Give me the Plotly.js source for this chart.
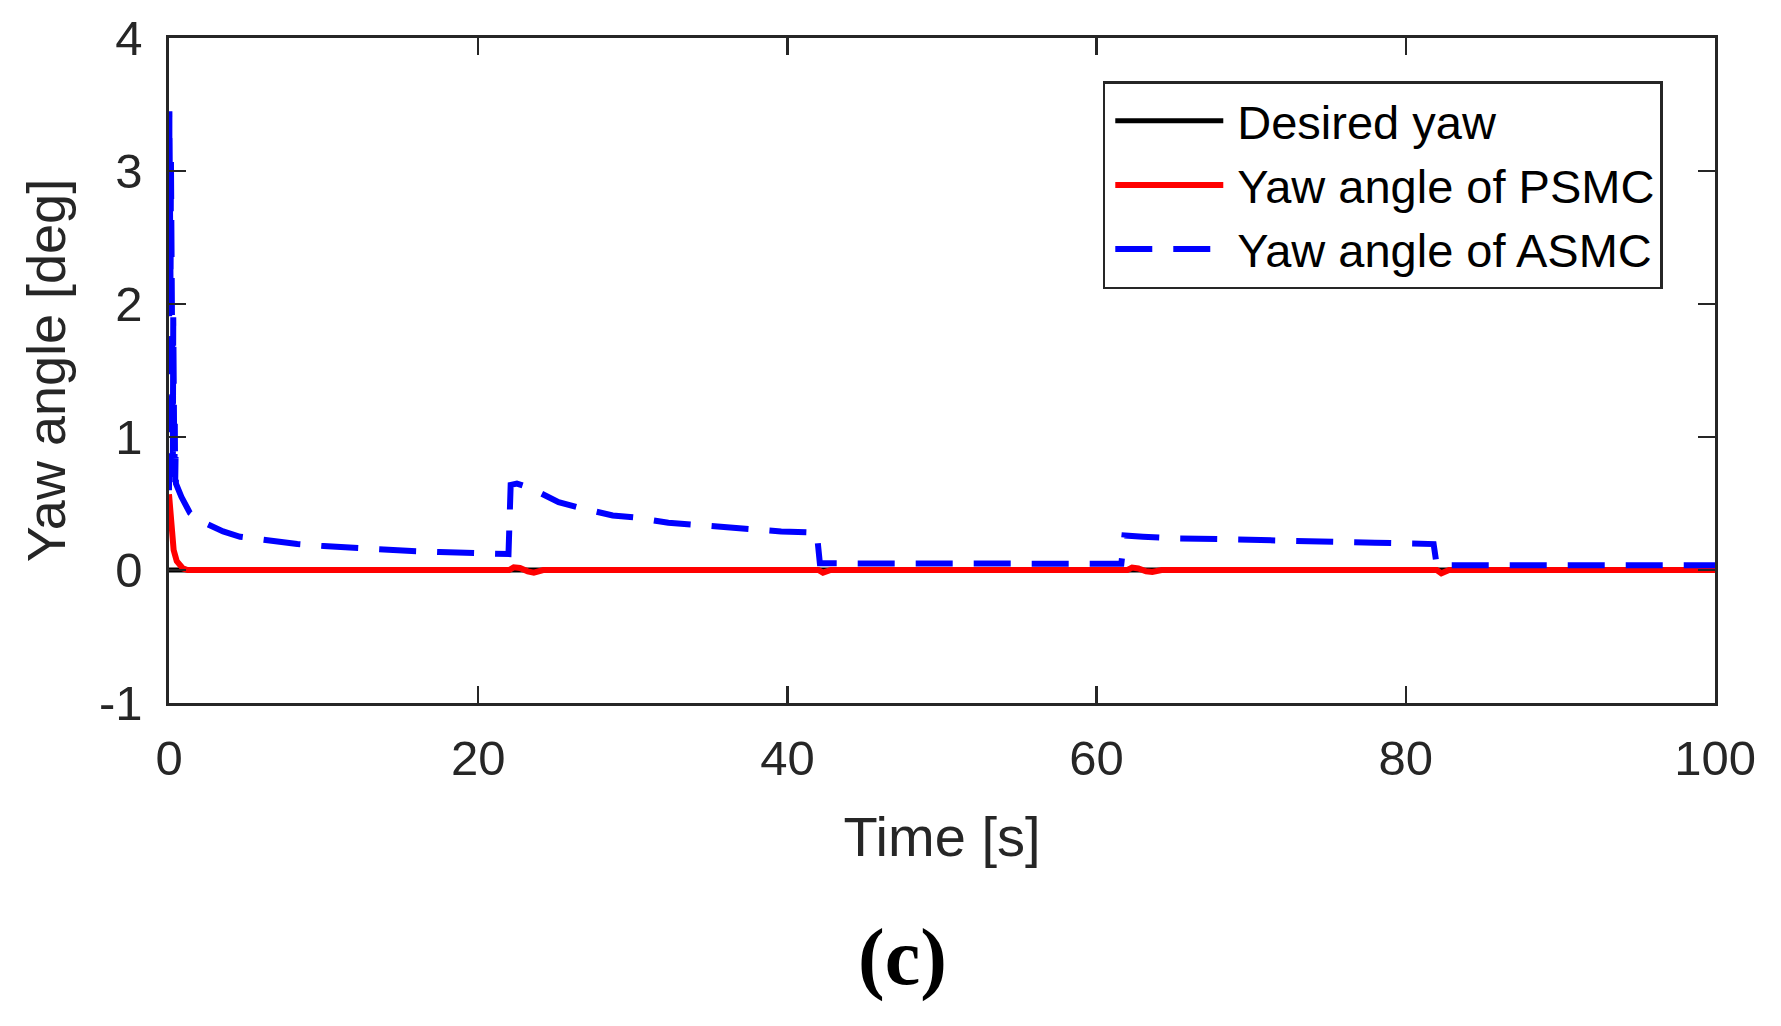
<!DOCTYPE html>
<html>
<head>
<meta charset="utf-8">
<script src="https://cdn.plot.ly/plotly-3.0.1.min.js"></script>
<style>
  html, body { margin: 0; padding: 0; background: #fff; }
  #chart { width: 1781px; height: 1026px; }
</style>
</head>
<body>
<div id="chart"></div>
<script>
// desired yaw: zero all the way
const tDesired = [0, 100];
const yawDesired = [0, 0];

// PSMC: fast decay from 0.57, tiny bumps at each disturbance
const tPsmc = [0, 0.1, 0.2, 0.3, 0.5, 0.7, 0.9, 1.2,
  22, 22.3, 22.7, 23.2, 23.6, 24.2,
  42, 42.3, 42.8,
  62, 62.3, 62.7, 63.2, 63.6, 64.2,
  82, 82.3, 82.8, 100];
const yawPsmc = [0.57, 0.37, 0.22, 0.15, 0.067, 0.03, 0.012, 0,
  0, 0.02, 0.015, -0.01, -0.02, 0,
  0, -0.02, 0,
  0, 0.018, 0.012, -0.01, -0.015, 0,
  0, -0.025, 0, 0];

// ASMC: chattering spike at start, then slow decays after each jump
const tAsmc = [0, 0.025, 0.05, 0.075, 0.1, 0.125, 0.15, 0.175, 0.2, 0.225, 0.25,
  0.275, 0.3, 0.325, 0.35, 0.375, 0.4, 0.425,
  0.45, 0.8, 1.35, 2.0, 2.6, 3.5, 4.6, 6, 8.3, 10, 12, 14, 15.7, 17.5, 19.4, 21.96,
  22.1, 22.5, 23.3, 25.2, 26.5, 28.7, 30.1, 32.3, 34, 36, 37.5, 39.6, 41.9,
  42.1, 61.6,
  61.8, 63, 65, 68, 70, 74, 78, 81.8,
  82, 100];
const yawAsmc = [0.6, 3.45, 2.9, 3.4, 2.1, 3.1, 1.6, 2.7, 1.1, 2.3, 0.85,
  1.9, 0.75, 1.4, 0.7, 1.1, 0.66, 0.85,
  0.65, 0.55, 0.43, 0.37, 0.335, 0.29, 0.25, 0.225, 0.195, 0.18, 0.165, 0.152, 0.143, 0.135, 0.128, 0.12,
  0.64, 0.65, 0.62, 0.51, 0.47, 0.41, 0.395, 0.355, 0.34, 0.32, 0.31, 0.29, 0.28,
  0.05, 0.047,
  0.26, 0.25, 0.238, 0.232, 0.225, 0.215, 0.205, 0.195,
  0.035, 0.035];

const xTicks = [0, 20, 40, 60, 80, 100];
const yTicks = [-1, 0, 1, 2, 3, 4];
const yTickText = ["-1", "0", "1", "2", "3", "4"];

const ink = "#262626";
const fontName = "Liberation Sans, Arial, Helvetica, sans-serif";

const data = [
  {
    x: tDesired, y: yawDesired,
    mode: "lines", type: "scatter",
    name: "Desired yaw",
    line: { color: "#000000", width: 5 }
  },
  {
    x: tPsmc, y: yawPsmc,
    mode: "lines", type: "scatter",
    name: "Yaw angle of PSMC",
    line: { color: "#ff0000", width: 6 }
  },
  {
    x: tAsmc, y: yawAsmc,
    mode: "lines", type: "scatter",
    name: "Yaw angle of ASMC",
    line: { color: "#0000ff", width: 6, dash: "37px,21px" }
  }
];

const axisCommon = {
  showgrid: false,
  zeroline: false,
  showline: true,
  linecolor: ink,
  linewidth: 2.7,
  mirror: "ticks",
  ticks: "inside",
  ticklen: 17,
  tickwidth: 2.5,
  tickcolor: ink,
  tickfont: { family: fontName, size: 49, color: ink }
};

const layout = {
  width: 1781,
  height: 1026,
  margin: { l: 169, r: 66, t: 38, b: 323 },
  paper_bgcolor: "#ffffff",
  plot_bgcolor: "#ffffff",
  showlegend: true,
  xaxis: Object.assign({}, axisCommon, {
    range: [0, 100],
    tickvals: xTicks,
    ticklabelstandoff: 10,
    title: { text: "Time [s]", font: { family: fontName, size: 56, color: ink }, standoff: 34 }
  }),
  yaxis: Object.assign({}, axisCommon, {
    range: [-1, 4],
    tickvals: yTicks,
    ticktext: yTickText,
    ticklabelstandoff: 14,
    title: { text: "Yaw angle [deg]", font: { family: fontName, size: 54, color: ink }, standoff: 16 }
  }),
  legend: {
    x: 0.604, y: 0.935,
    xanchor: "left", yanchor: "top",
    bgcolor: "#ffffff",
    bordercolor: ink,
    borderwidth: 2.5,
    itemwidth: 122,
    tracegroupgap: 0,
    font: { family: fontName, size: 47, color: "#000000" }
  },
  annotations: [
    {
      text: "(c)",
      xref: "paper", yref: "paper",
      x: 0.4746, y: -0.383,
      xanchor: "center", yanchor: "middle",
      showarrow: false,
      font: { family: "Liberation Serif, Times New Roman, serif", size: 80, color: "#000000", weight: "bold" }
    }
  ]
};

Plotly.newPlot("chart", data, layout, { staticPlot: true, displayModeBar: false }).then(gd => {
  // shorten legend samples a bit so there is a gap before the text, like matlab
  gd.querySelectorAll(".legendlines path").forEach(p => p.setAttribute("d", "M10,0h108"));
});
</script>
</body>
</html>
